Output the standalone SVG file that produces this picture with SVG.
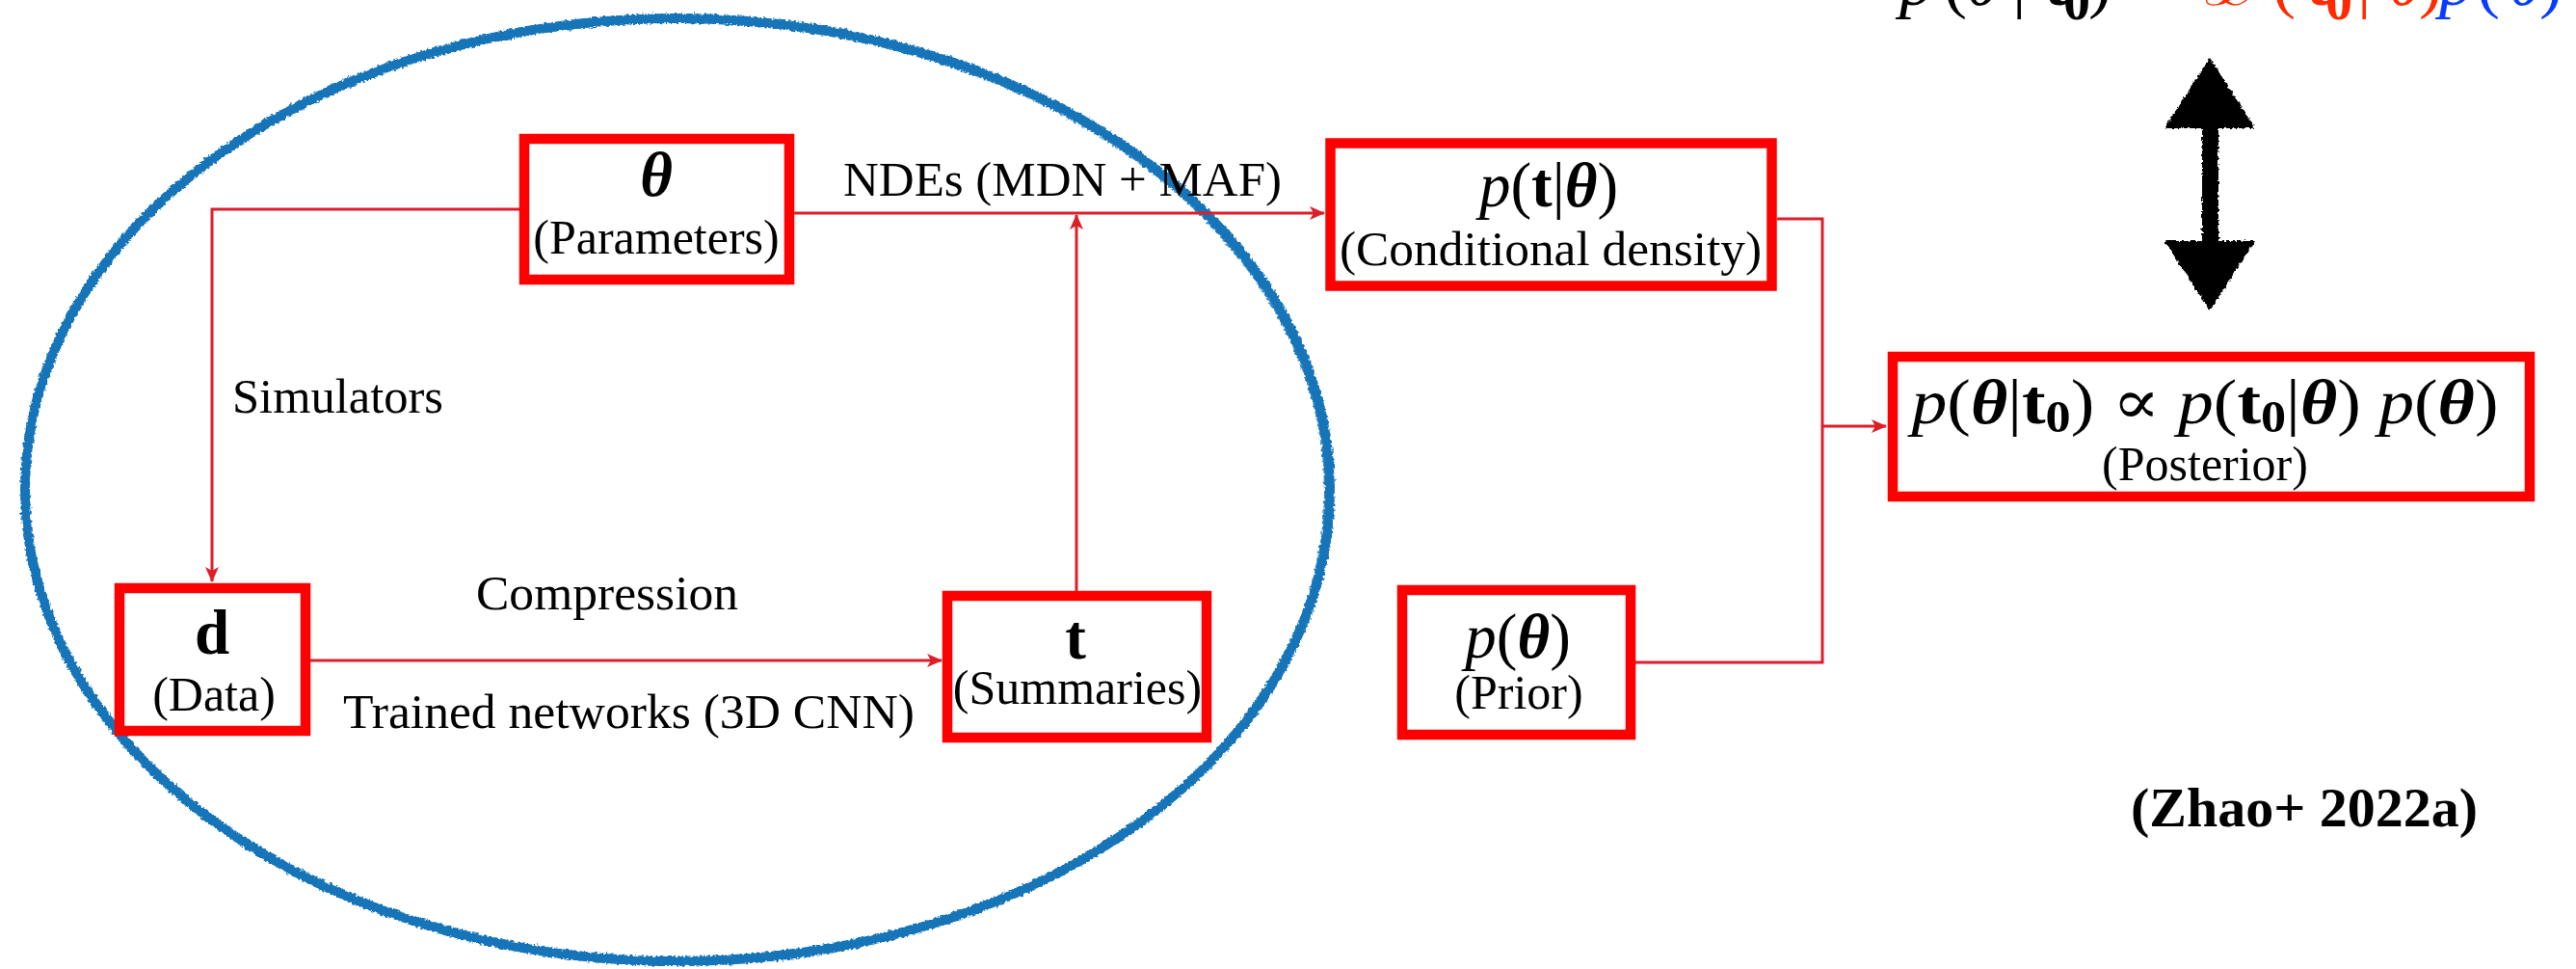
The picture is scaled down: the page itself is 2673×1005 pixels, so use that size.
<svg xmlns="http://www.w3.org/2000/svg" width="2673" height="1005" viewBox="0 0 2673 1005">
  <style>
    .box { fill: #ffffff; stroke: #ff0000; stroke-width: 10.5; }
    .txt { font-family: "Liberation Serif", "Times New Roman", serif; font-size: 50px; fill: #000; text-anchor: middle; }
    .lbl { font-family: "Liberation Serif", "Times New Roman", serif; font-size: 50px; fill: #000; }
    .math { font-family: "Liberation Serif", "DejaVu Serif", serif; font-size: 65px; fill: #000; text-anchor: middle; }
    .it { font-style: italic; }
    .bi { font-style: italic; font-weight: bold; }
    .bf { font-weight: bold; }
    .conn { fill: none; stroke: #dc1e2a; stroke-width: 3; }
    .top { font-family: "Liberation Serif", "DejaVu Serif", serif; font-size: 72px; }
  </style>
  <defs>
    <marker id="arr" viewBox="0 0 16 14" refX="15" refY="7" markerWidth="16" markerHeight="14" markerUnits="userSpaceOnUse" orient="auto">
      <path d="M0,0 L16,7 L0,14 L4,7 Z" fill="#dc1e2a"/>
    </marker>
    <filter id="rough" x="-5%" y="-5%" width="110%" height="110%">
      <feTurbulence type="fractalNoise" baseFrequency="0.35" numOctaves="2" seed="3" result="n"/>
      <feDisplacementMap in="SourceGraphic" in2="n" scale="5" xChannelSelector="R" yChannelSelector="G"/>
    </filter>
  </defs>

  <rect x="0" y="0" width="2673" height="1005" fill="#ffffff"/>

  <!-- hand-drawn ellipse -->
  <g id="ellipse" filter="url(#rough)">
    <ellipse cx="703" cy="508" rx="677" ry="489" fill="none" stroke="#1574b8" stroke-width="10"/>
    <ellipse cx="701" cy="509" rx="676" ry="488" fill="none" stroke="#1574b8" stroke-width="6" opacity="0.8"/>
  </g>

  <!-- connectors -->
  <g id="connectors">
    <line class="conn" x1="824" y1="221" x2="1374" y2="221" marker-end="url(#arr)"/>
    <polyline class="conn" points="539,217 220,217 220,603" marker-end="url(#arr)"/>
    <line class="conn" x1="322" y1="685" x2="977" y2="685" marker-end="url(#arr)"/>
    <line class="conn" x1="1117" y1="613" x2="1117" y2="223" marker-end="url(#arr)"/>
    <polyline class="conn" points="1844,227 1891,227 1891,687 1697,687"/>
    <line class="conn" x1="1891" y1="442" x2="1957" y2="442" marker-end="url(#arr)"/>
    <text class="lbl" x="875" y="203" textLength="455" lengthAdjust="spacingAndGlyphs">NDEs (MDN + MAF)</text>
    <text class="lbl" x="241" y="428" textLength="219" lengthAdjust="spacingAndGlyphs">Simulators</text>
    <text class="lbl" x="494" y="632" textLength="272" lengthAdjust="spacingAndGlyphs">Compression</text>
    <text class="lbl" x="356" y="755" textLength="593" lengthAdjust="spacingAndGlyphs">Trained networks (3D CNN)</text>
  </g>

  <g id="node-theta">
    <rect class="box" x="544" y="144" width="275" height="146"/>
    <text class="math" x="681" y="203"><tspan class="bi">θ</tspan></text>
    <text class="txt" x="681" y="263">(Parameters)</text>
  </g>

  <g id="node-conditional">
    <rect class="box" x="1380.5" y="148.5" width="458" height="148"/>
    <text class="math" x="1607" y="214"><tspan class="it">p</tspan>(<tspan class="bf">t</tspan>|<tspan class="bi">θ</tspan>)</text>
    <text class="txt" x="1609" y="275" textLength="438" lengthAdjust="spacingAndGlyphs">(Conditional density)</text>
  </g>

  <g id="node-data">
    <rect class="box" x="124" y="610" width="193" height="148"/>
    <text class="math" x="220" y="678"><tspan class="bf">d</tspan></text>
    <text class="txt" x="222" y="737">(Data)</text>
  </g>

  <g id="node-summaries">
    <rect class="box" x="983" y="618" width="269" height="147"/>
    <text class="math" x="1116" y="683"><tspan class="bf">t</tspan></text>
    <text class="txt" x="1118" y="730">(Summaries)</text>
  </g>

  <g id="node-prior">
    <rect class="box" x="1455" y="612" width="237" height="150"/>
    <text class="math" x="1575" y="682"><tspan class="it">p</tspan>(<tspan class="bi">θ</tspan>)</text>
    <text class="txt" x="1576" y="735">(Prior)</text>
  </g>

  <g id="node-posterior">
    <rect class="box" x="1964" y="370" width="661" height="145"/>
    <text class="math" x="2288" y="439" textLength="609" lengthAdjust="spacingAndGlyphs"><tspan class="it">p</tspan>(<tspan class="bi">θ</tspan>|<tspan class="bf">t</tspan><tspan class="bf" font-size="46" dy="9">0</tspan><tspan dy="-9">) ∝ </tspan><tspan class="it">p</tspan>(<tspan class="bf">t</tspan><tspan class="bf" font-size="46" dy="9">0</tspan><tspan dy="-9">|</tspan><tspan class="bi">θ</tspan>) <tspan class="it">p</tspan>(<tspan class="bi">θ</tspan>)</text>
    <text class="txt" x="2288" y="498">(Posterior)</text>
  </g>

  <!-- top formula (cut off at top edge) -->
  <g id="top-formula">
    <text class="top" y="5">
      <tspan x="1971" class="it" fill="#000">p</tspan>
      <tspan x="2017" fill="#000">(</tspan>
      <tspan x="2040" class="it" fill="#000">θ</tspan>
      <tspan x="2088" fill="#000">|</tspan>
      <tspan x="2121" class="bf" fill="#000">t</tspan>
      <tspan x="2141" y="20" class="bf" font-size="56" fill="#000">0</tspan>
      <tspan x="2167" y="5" fill="#000">)</tspan>
      <tspan x="2213" class="bf" fill="#000">∝</tspan>
      <tspan x="2287" class="it" fill="#ff2a00">ℒ</tspan>
      <tspan x="2358" fill="#ff2a00">(</tspan>
      <tspan x="2393" class="bf" fill="#ff2a00">t</tspan>
      <tspan x="2413" y="20" class="bf" font-size="56" fill="#ff2a00">0</tspan>
      <tspan x="2446" y="5" fill="#ff2a00">|</tspan>
      <tspan x="2478" class="it" fill="#ff2a00">θ</tspan>
      <tspan x="2510" fill="#ff2a00">)</tspan>
      <tspan x="2531" class="it" fill="#0a3cff">p</tspan>
      <tspan x="2570" fill="#0a3cff">(</tspan>
      <tspan x="2603" class="it" fill="#0a3cff">θ</tspan>
      <tspan x="2635" fill="#0a3cff">)</tspan>
    </text>
  </g>

  <!-- sketchy double arrow -->
  <g id="double-arrow" filter="url(#rough)">
    <polygon points="2293,60 2340,133 2302,133 2302,250 2340,250 2293,322 2246,250 2285,250 2285,133 2246,133" fill="#000"/>
  </g>

  <g id="citation">
    <text x="2211" y="857" font-family="Liberation Serif, Times New Roman, serif" font-weight="bold" font-size="58" textLength="360" lengthAdjust="spacingAndGlyphs">(Zhao+ 2022a)</text>
  </g>
</svg>
